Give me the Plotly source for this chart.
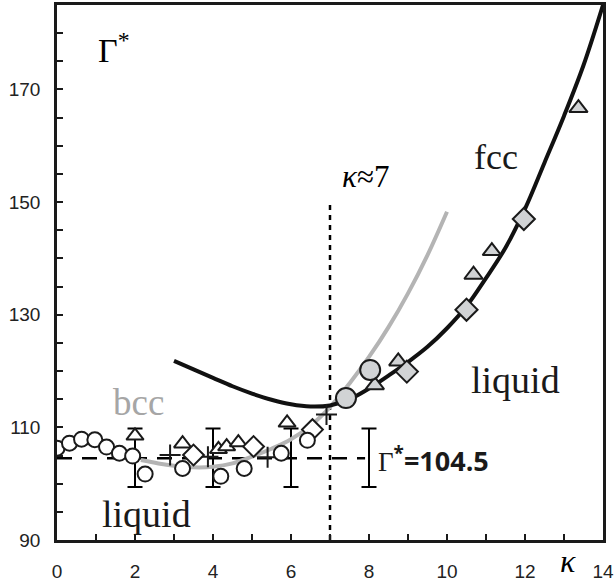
import plotly.graph_objects as go

# ---------------- data ----------------
# open white circles
circ_k = [0.0, 0.32, 0.63, 0.97, 1.27, 1.6, 1.94, 2.26, 3.22, 4.2, 4.8, 5.75, 6.42]
circ_g = [106.3, 107.2, 107.9, 107.8, 106.5, 105.4, 104.9, 101.7, 102.7, 101.3, 102.7, 105.4, 107.7]
# open white triangles
tri_k = [2.0, 3.22, 4.14, 4.35, 4.65, 5.9]
tri_g = [108.5, 107.1, 106.1, 106.6, 107.3, 110.8]
# open white diamonds
dia_k = [3.5, 5.04, 6.55]
dia_g = [105.1, 106.6, 109.6]
# plus markers
plus_k = [2.9, 3.87, 5.4, 6.91]
plus_g = [105.1, 104.8, 104.7, 112.3]
# gray (filled) markers on the fcc line
gcirc_k = [7.41, 8.03]
gcirc_g = [115.2, 120.2]
gtri_k = [8.15, 8.75, 10.68, 11.15, 13.37]
gtri_g = [117.5, 121.7, 137.1, 141.3, 166.7]
gdia_k = [8.97, 10.5, 11.97]
gdia_g = [119.9, 130.9, 147.0]
# error bars at Gamma* = 104.5
err_k = [2, 4, 6, 8]
err_g = [104.6, 104.6, 104.6, 104.6]
err_d = [5.2, 5.2, 5.2, 5.2]
# black curve (fcc melting line)
fcc_k = [3.0, 3.5, 4.0, 4.5, 5.0, 5.5, 6.0, 6.5, 7.0, 7.5, 8.0, 8.5, 9.0, 9.5,
         10.0, 10.5, 11.0, 11.5, 12.0, 12.5, 13.0, 13.5, 14.0]
fcc_g = [121.8, 120.3, 118.8, 117.3, 116.0, 114.9, 114.1, 113.7, 113.9, 115.0,
         116.9, 119.2, 121.6, 124.3, 127.6, 131.5, 136.5, 141.9, 148.8, 157.0,
         165.3, 174.3, 185.0]
# gray curve (bcc melting line)
bcc_k = [2.15, 2.6, 3.0, 3.5, 4.0, 4.5, 5.0, 5.5, 6.0, 6.5, 7.0, 7.5, 8.0, 8.5, 9.0, 9.5, 10.0]
bcc_g = [104.2, 103.6, 103.2, 102.9, 103.0, 103.6, 104.8, 106.2, 107.9, 110.3, 113.6,
         117.8, 122.5, 127.8, 133.8, 140.6, 148.3]
# reference lines
gstar_k = [0.0, 7.9]
gstar_g = [104.5, 104.5]
kap_k = [7.0, 7.0]
kap_g = [90.0, 150.2]
# ticks
x_major = [0, 2, 4, 6, 8, 10, 12, 14]
y_major = [90, 110, 130, 150, 170]

GRAYFILL = "#d1d3d5"
SERIF = "Liberation Serif"
SANS = "Liberation Sans"

fig = go.Figure()

fig.add_trace(go.Scatter(x=gstar_k, y=gstar_g, mode="lines",
                         line=dict(color="black", width=2.5, dash="15px,10px")))
fig.add_trace(go.Scatter(x=kap_k, y=kap_g, mode="lines",
                         line=dict(color="black", width=2.5, dash="5px,5px")))
fig.add_trace(go.Scatter(x=err_k, y=err_g, mode="markers",
                         marker=dict(size=1, opacity=0),
                         error_y=dict(type="data", array=err_d, visible=True,
                                      color="black", thickness=2, width=7.5)))
fig.add_trace(go.Scatter(x=bcc_k, y=bcc_g, mode="lines", line_shape="spline",
                         line=dict(color="#b4b4b4", width=4)))
fig.add_trace(go.Scatter(x=fcc_k, y=fcc_g, mode="lines", line_shape="spline",
                         line=dict(color="#111111", width=4)))

mline = dict(color="#1a1a1a", width=2)
fig.add_trace(go.Scatter(x=plus_k, y=plus_g, mode="markers",
                         marker=dict(symbol="cross-thin", size=15, line=dict(color="#1a1a1a", width=2))))
fig.add_trace(go.Scatter(x=tri_k, y=tri_g, mode="markers",
                         marker=dict(symbol="triangle-up", size=15, color="white", line=mline)))
fig.add_trace(go.Scatter(x=dia_k, y=dia_g, mode="markers",
                         marker=dict(symbol="diamond", size=16, color="white", line=mline)))
fig.add_trace(go.Scatter(x=circ_k, y=circ_g, mode="markers",
                         marker=dict(symbol="circle", size=15, color="white", line=mline)))
fig.add_trace(go.Scatter(x=gtri_k, y=gtri_g, mode="markers",
                         marker=dict(symbol="triangle-up", size=16, color=GRAYFILL, line=mline)))
fig.add_trace(go.Scatter(x=gdia_k, y=gdia_g, mode="markers",
                         marker=dict(symbol="diamond", size=17, color=GRAYFILL, line=mline)))
fig.add_trace(go.Scatter(x=gcirc_k, y=gcirc_g, mode="markers",
                         marker=dict(symbol="circle", size=20, color=GRAYFILL, line=mline)))

ann = [
    dict(x=1.45, y=177.3, text="Γ<sup>*</sup>", font=dict(family=SERIF, size=34, color="black")),
    dict(x=11.25, y=158.0, text="fcc", font=dict(family=SERIF, size=36, color="#1a1a1a")),
    dict(x=11.76, y=118.5, text="liquid", font=dict(family=SERIF, size=38, color="#1a1a1a")),
    dict(x=2.3, y=94.6, text="liquid", font=dict(family=SERIF, size=38, color="#1a1a1a")),
    dict(x=2.08, y=114.5, text="bcc", font=dict(family=SERIF, size=37, color="#a6a6a6")),
    dict(x=7.9, y=154.5, text="<i>κ</i>≈7", font=dict(family=SERIF, size=31, color="black")),
    dict(x=8.17, y=104.3, xanchor="left",
         text="<span style='font-family:Liberation Serif;font-weight:normal'>Γ</span><b><sup>*</sup>=104.5</b>",
         font=dict(family="Open Sans", size=27, color="#1a1a1a")),
]
for a in ann:
    a.setdefault("xanchor", "center")
    a.update(xref="x", yref="y", showarrow=False, yanchor="middle")
    fig.add_annotation(**a)

fig.add_annotation(x=13.1, y=-0.077, xref="x", yref="paper", text="<i>κ</i>", showarrow=False,
                   font=dict(family=SERIF, size=32, color="black"), xanchor="center", yanchor="bottom")

fig.update_layout(
    width=614, height=582,
    margin=dict(l=57, r=11, t=5, b=42),
    paper_bgcolor="white", plot_bgcolor="white",
    showlegend=False,
)
fig.update_xaxes(range=[0, 14], tickvals=x_major, ticktext=[str(v) for v in x_major],
                 ticks="inside", ticklen=6, tickwidth=2, tickcolor="#1a1a1a",
                 minor=dict(dtick=1, ticks="inside", ticklen=6, tickwidth=2, tickcolor="#1a1a1a"),
                 showline=True, linewidth=2.5, linecolor="#1a1a1a", mirror=True,
                 showgrid=False, zeroline=False, ticklabelstandoff=12, automargin=False,
                 tickfont=dict(family=SANS, size=19, color="#222"))
fig.update_yaxes(range=[90, 185], tickvals=y_major, ticktext=[str(v) for v in y_major],
                 ticks="inside", ticklen=6, tickwidth=2, tickcolor="#1a1a1a",
                 minor=dict(dtick=5, tick0=90, ticks="inside", ticklen=6, tickwidth=2, tickcolor="#1a1a1a"),
                 showline=True, linewidth=2.5, linecolor="#1a1a1a", mirror=True,
                 showgrid=False, zeroline=False, ticklabelstandoff=10, automargin=False,
                 tickfont=dict(family=SANS, size=19, color="#222"))

fig.write_html("out.html", config={"displayModeBar": False},
               post_script="document.body.style.margin='0';document.body.style.padding='0';")
